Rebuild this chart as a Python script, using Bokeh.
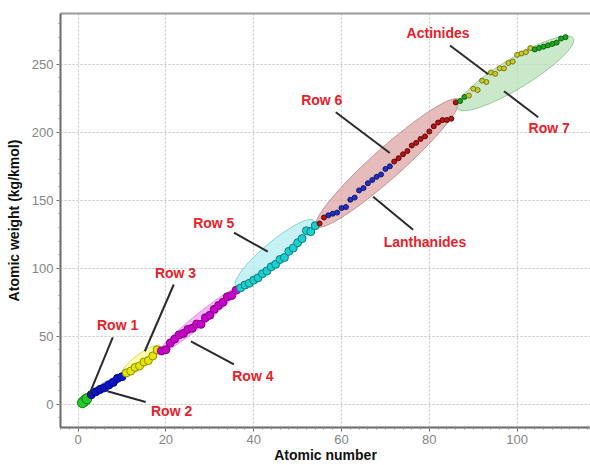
import math
from bokeh.plotting import figure
from bokeh.models import ColumnDataSource, Range1d, SingleIntervalTicker, LinearAxis, FixedTicker
from bokeh.core.properties import value
from bokeh.embed import file_html
from bokeh.resources import INLINE

# ---------------- data ----------------
atomic_number = list(range(1, 112))
atomic_weight = [
    1.008, 4.003,
    6.94, 9.012, 10.81, 12.011, 14.007, 15.999, 18.998, 20.180,
    22.990, 24.305, 26.982, 28.086, 30.974, 32.06, 35.45, 39.948,
    39.098, 40.078, 44.956, 47.867, 50.942, 51.996, 54.938, 55.845, 58.933,
    58.693, 63.546, 65.38, 69.723, 72.630, 74.922, 78.971, 79.904, 83.798,
    85.468, 87.62, 88.906, 91.224, 92.906, 95.95, 98.0, 101.07, 102.906,
    106.42, 107.868, 112.414, 114.818, 118.710, 121.760, 127.60, 126.904, 131.293,
    132.905, 137.327,
    138.905, 140.116, 140.908, 144.242, 145.0, 150.36, 151.964, 157.25,
    158.925, 162.500, 164.930, 167.259, 168.934, 173.045, 174.967,
    178.49, 180.948, 183.84, 186.207, 190.23, 192.217, 195.084, 196.967,
    200.592, 204.38, 207.2, 208.980, 209.0, 210.0, 222.0,
    223.0, 226.0,
    227.0, 232.038, 231.036, 238.029, 237.0, 244.0, 243.0, 247.0, 247.0,
    251.0, 252.0, 257.0, 258.0, 259.0, 262.0,
    261.0, 262.0, 263.0, 264.0, 265.0, 266.0, 269.0, 270.0,
]
assert len(atomic_weight) == len(atomic_number)

# marker segments (first Z, last Z)
seg_first = [1, 3, 11, 19, 37, 55, 57, 72, 87, 89, 104]
seg_last = [2, 10, 18, 36, 54, 56, 71, 86, 88, 103, 111]
seg_fill = ["#22cc22", "#0a14c8", "#e6e600", "#cc00cc", "#1ccfcf",
            "#b01515", "#2030c0", "#b01515", "#1aa81a", "#c8c828", "#1aa81a"]
seg_line = ["#0f7a0f", "#000a80", "#8c8c00", "#800080", "#0a7d82",
            "#6a0808", "#101a70", "#6a0808", "#0b600b", "#7a7a10", "#0b600b"]
seg_size = [10, 8, 8, 8, 8, 5, 5, 5, 5, 5, 5]

# shaded groups (periodic-table rows)
row_names = ["Row 1", "Row 2", "Row 3", "Row 4", "Row 5", "Row 6", "Row 7"]
row_first = [1, 3, 11, 19, 37, 55, 87]
row_last = [2, 10, 18, 36, 54, 86, 111]
row_fill = ["#60d860", "#6f78f0", "#ffff90", "#f0a0f0", "#b4eef2", "#dca4a4", "#b8e2b8"]
row_line = ["#30a030", "#8088ee", "#d8d870", "#e090e0", "#80d4dc", "#c89494", "#98c898"]

# annotations (text, text x/y, leader start x/y, leader end x/y) in data units
ann_text = ["Row 1", "Row 2", "Row 3", "Row 4", "Row 5", "Row 6",
            "Lanthanides", "Actinides", "Row 7"]
ann_tx = [9.0, 21.3, 22.2, 39.8, 30.9, 55.5, 79.0, 82.0, 107.3]
ann_ty = [57.9, -5.1, 96.8, 20.5, 133.4, 223.6, 119.5, 272.7, 203.1]
ann_x0 = [7.9, 6.7, 21.8, 25.7, 35.5, 58.7, 67.2, 84.7, 97.0]
ann_y0 = [49.1, 9.5, 88.0, 46.2, 126.1, 214.8, 152.5, 263.9, 230.2]
ann_x1 = [2.4, 15.4, 15.2, 35.5, 43.2, 71.0, 76.3, 93.4, 104.8]
ann_y1 = [5.9, 1.5, 38.9, 29.3, 112.2, 184.8, 128.3, 242.7, 211.1]

# ---------------- layout ----------------
X0, X1 = -4.0, 116.7
Y0, Y1 = -17.2, 287.4
FRAME_W, FRAME_H = 530, 415
SX = FRAME_W / (X1 - X0)
SY = FRAME_H / (Y1 - Y0)

# ellipse shape parameters (screen px): pad at ends, thickness, normal offset
ell_pad = [4, 5, 5, 4, 2, 4, 6]
ell_thick = [11, 8, 13, 12, 22, 30, 30]
ell_off = [0, 0, 1, 0, 5, 0, -5]

p = figure(width=590, height=465, output_backend="svg", toolbar_location=None,
           x_range=Range1d(X0, X1), y_range=Range1d(Y0, Y1),
           min_border_left=60, min_border_right=0, min_border_top=13,
           min_border_bottom=37, background_fill_color="white",
           border_fill_color="white")

p.outline_line_color = None

for ax in (p.xaxis[0], p.yaxis[0]):
    ax.axis_line_color = "#6a6a6a"
    ax.axis_line_width = 2
    ax.major_tick_line_color = "#6a6a6a"
    ax.minor_tick_line_color = "#8a8a8a"
    ax.major_tick_out = 4
    ax.major_tick_in = 0
    ax.minor_tick_out = 2
    ax.minor_tick_in = 1
    ax.major_label_text_font = "Liberation Sans"
    ax.major_label_text_font_size = "13px"
    ax.major_label_text_color = "#858585"
    ax.axis_label_text_font = "Liberation Sans"
    ax.axis_label_text_font_style = "bold"
    ax.axis_label_text_font_size = "14px"
    ax.axis_label_text_color = "#111111"

p.xaxis.ticker = SingleIntervalTicker(interval=20, num_minor_ticks=10)
p.yaxis.ticker = SingleIntervalTicker(interval=50, num_minor_ticks=5)
p.xaxis.axis_label = "Atomic number"
p.yaxis.axis_label = "Atomic weight (kg/kmol)"
p.xaxis.major_label_standoff = 3
p.xaxis.axis_label_standoff = 0
p.yaxis.major_label_standoff = 3
p.yaxis.axis_label_standoff = 7

# top border line
top = LinearAxis(ticker=FixedTicker(ticks=[]), axis_line_color="#9a9a9a",
                 axis_line_width=2, major_tick_out=0, major_tick_in=0,
                 minor_tick_out=0, minor_tick_in=0)
p.add_layout(top, "above")

p.grid.grid_line_color = "#c4c4c4"
p.grid.grid_line_dash = "2 2"
p.grid.grid_line_width = 1

# ---------------- shaded groups ----------------
ex, ey, ew, eh, ea, ef, el = [], [], [], [], [], [], []
for i in range(len(row_names)):
    a, b = row_first[i] - 1, row_last[i] - 1
    xa, ya = atomic_number[a], atomic_weight[a]
    xb, yb = atomic_number[b], atomic_weight[b]
    dxp, dyp = (xb - xa) * SX, (yb - ya) * SY
    ang = math.atan2(dyp, dxp)
    length = math.hypot(dxp, dyp) + 2 * ell_pad[i]
    cx = (xa + xb) / 2 - math.sin(ang) * ell_off[i] / SX
    cy = (ya + yb) / 2 + math.cos(ang) * ell_off[i] / SY
    ex.append(cx); ey.append(cy); ew.append(length); eh.append(ell_thick[i])
    ea.append(ang); ef.append(row_fill[i]); el.append(row_line[i])

esrc = ColumnDataSource(dict(x=ex, y=ey, w=ew, h=eh, a=ea, f=ef, l=el))
p.ellipse(x="x", y="y", width="w", height="h", angle="a", source=esrc,
          width_units="screen", height_units="screen",
          fill_color="f", fill_alpha=0.75, line_color="l", line_width=1)

# ---------------- points ----------------
for i in range(len(seg_first)):
    a, b = seg_first[i] - 1, seg_last[i]
    src = ColumnDataSource(dict(x=atomic_number[a:b], y=atomic_weight[a:b]))
    p.scatter("x", "y", source=src, size=seg_size[i], fill_color=seg_fill[i],
              line_color=seg_line[i], line_width=1)

# ---------------- annotations ----------------
lsrc = ColumnDataSource(dict(x0=ann_x0, y0=ann_y0, x1=ann_x1, y1=ann_y1))
p.segment(x0="x0", y0="y0", x1="x1", y1="y1", source=lsrc,
          line_color="#2a2a2a", line_width=2)
tsrc = ColumnDataSource(dict(x=ann_tx, y=ann_ty, t=ann_text))
p.text(x="x", y="y", text="t", source=tsrc, text_align="center",
       text_baseline="middle", text_font=value("Liberation Sans"),
       text_font_style="bold", text_font_size="14px", text_color="#e8212b")

open("out.html", "w").write(file_html(p, INLINE))
